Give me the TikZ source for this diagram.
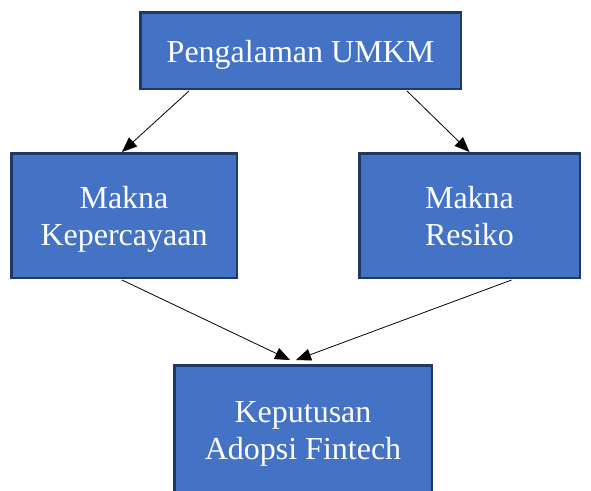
\documentclass[tikz,border=0pt]{standalone}
\usepackage{fontspec}
\setmainfont{Liberation Serif}
\usetikzlibrary{arrows.meta}
\definecolor{boxfill}{HTML}{4472C4}
\definecolor{boxline}{HTML}{203864}
\newcommand{\boxtext}[2][-3.6pt]{\raisebox{#1}[\height][\depth]{\begin{tabular}{@{}c@{}}#2\end{tabular}}}
\begin{document}
\begin{tikzpicture}[x=1pt,y=1pt,
  box/.style={draw=boxline, fill=boxfill, line width=2.5pt, text=white,
    inner sep=0pt, font=\fontsize{32}{37}\selectfont},
  arr/.style={-{Triangle[length=15pt,width=12pt]}, line width=0.8pt, black}]
\useasboundingbox (0,0) rectangle (591,-490);
\clip (0,0) rectangle (591,-490);
\fill[white] (0,0) rectangle (591,-490);
\node[box, minimum width=320.5pt, minimum height=76.5pt] (top) at (300.5,-50.5) {\boxtext[-4.2pt]{Pengalaman UMKM}};
\node[box, minimum width=225.5pt, minimum height=124.5pt] (lk) at (124,-215.5) {\boxtext{Makna\\Kepercayaan}};
\node[box, minimum width=220.5pt, minimum height=124.5pt] (rk) at (469.5,-215.5) {\boxtext{Makna\\Resiko}};
\node[box, minimum width=257.5pt, minimum height=129.5pt] (bt) at (303,-430) {\boxtext[-3.2pt]{Keputusan\\Adopsi Fintech}};
\draw[arr] ([xshift=50pt,yshift=-1pt]top.south west) -- ([xshift=-2pt]lk.north);
\draw[arr] ([xshift=-55pt,yshift=-1pt]top.south east) -- (rk.north);
\draw[arr] ([xshift=-2pt,yshift=-1pt]lk.south) -- ([xshift=-13pt,yshift=4pt]bt.north);
\draw[arr] ([xshift=42pt,yshift=-1pt]rk.south) -- ([xshift=-7pt,yshift=4pt]bt.north);
\end{tikzpicture}
\end{document}
